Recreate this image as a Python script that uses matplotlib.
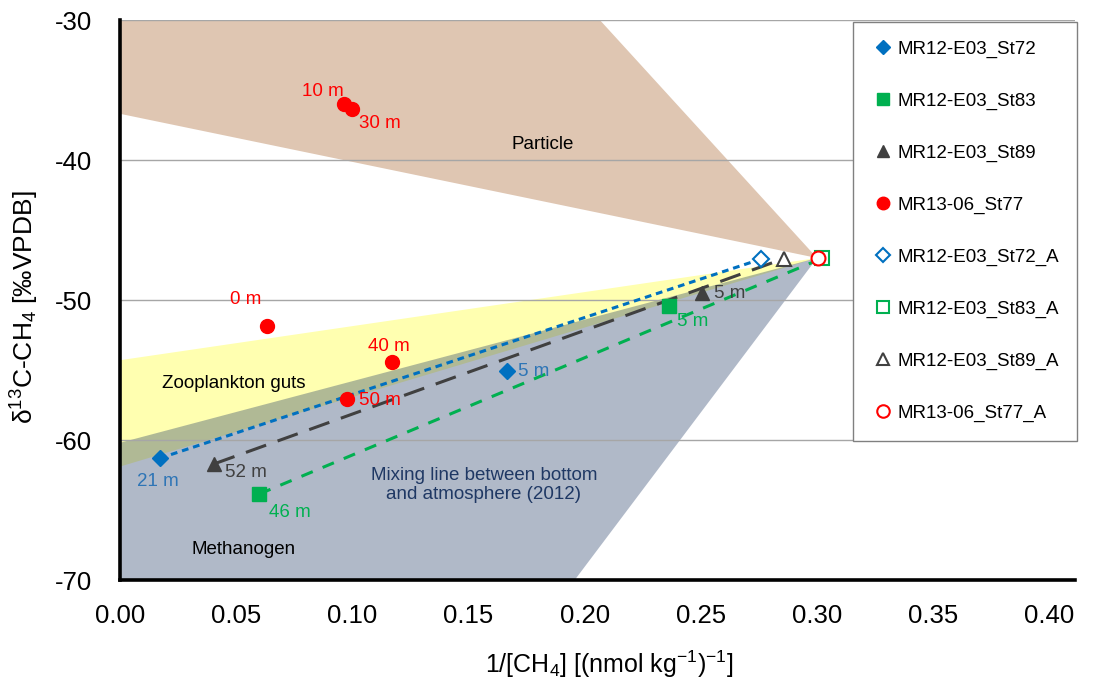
import matplotlib
matplotlib.use("Agg")
import matplotlib.pyplot as plt
from matplotlib.lines import Line2D
from matplotlib.patches import Polygon

plt.rcParams['font.family'] = ['Liberation Sans', 'DejaVu Sans']
plt.rcParams['mathtext.fontset'] = 'custom'
plt.rcParams['mathtext.rm'] = 'Liberation Sans'
plt.rcParams['mathtext.it'] = 'Liberation Sans:italic'
plt.rcParams['axes.unicode_minus'] = False

# ---------------- data ----------------
# bottom-water samples (x = 1/[CH4], y = d13C)
st72_x = [0.0172, 0.1666]
st72_y = [-61.3, -55.05]
st72_lbl = ["21 m", "5 m"]
st83_x = [0.0599, 0.2361]
st83_y = [-63.86, -50.41]
st83_lbl = ["46 m", "5 m"]
st89_x = [0.0406, 0.2505]
st89_y = [-61.7, -49.5]
st89_lbl = ["52 m", "5 m"]
st77_x = [0.0632, 0.0965, 0.0999, 0.1171, 0.0975]
st77_y = [-51.86, -36.0, -36.33, -54.41, -57.09]
st77_lbl = ["0 m", "10 m", "30 m", "40 m", "50 m"]
# atmospheric equilibrium end-members
atm_x = {"St72": 0.276, "St83": 0.3022, "St89": 0.2856, "St77": 0.3004}
atm_y = {"St72": -47.07, "St83": -47.02, "St89": -47.05, "St77": -47.02}
# source fields (polygons)
particle_x = [0.0, 0.2065, 0.300, 0.0]
particle_y = [-30.0, -30.0, -47.0, -36.7]
zoo_x = [0.0, 0.300, 0.0]
zoo_y = [-54.3, -47.0, -61.9]
meth_x = [0.0, 0.300, 0.1957, 0.0]
meth_y = [-60.2, -47.0, -70.0, -70.0]
xticks = [0.00, 0.05, 0.10, 0.15, 0.20, 0.25, 0.30, 0.35, 0.40]
yticks = [-70, -60, -50, -40, -30]

# label positions (centre of text)
st72_lpos = [(0.0163, -63.0), (0.178, -55.1)]
st83_lpos = [(0.0731, -65.2), (0.2465, -51.5)]
st89_lpos = [(0.0542, -62.3), (0.2624, -49.5)]
st77_lpos = [(0.0542, -50.0), (0.0873, -35.14), (0.1118, -37.36), (0.1157, -53.29), (0.1118, -57.2)]

C_BLUE = '#0070C0'
C_BLUE_T = '#2E75B6'
C_GREEN = '#00B050'
C_GRAY = '#404040'
C_RED = '#FF0000'

W, H = 1102, 689
fig = plt.figure(figsize=(W / 100, H / 100), dpi=100)
ax = fig.add_axes([120 / W, 1 - 580 / H, 955 / W, 560 / H])
ax.set_xlim(0, 0.411)
ax.set_ylim(-70, -30)

# polygons
ax.add_patch(Polygon(list(zip(particle_x, particle_y)), closed=True,
                     facecolor='#DFC6B2', edgecolor='none', zorder=1))
ax.add_patch(Polygon(list(zip(zoo_x, zoo_y)), closed=True,
                     facecolor='#FFFFB0', edgecolor='none', zorder=1))
ax.add_patch(Polygon(list(zip(meth_x, meth_y)), closed=True,
                     facecolor='#1F3864', alpha=0.35, edgecolor='none', zorder=1.1))

# grid
ax.set_axisbelow('line')
ax.yaxis.grid(True, color='#A6A6A6', linewidth=1.0)
ax.xaxis.grid(False)

# mixing lines
ax.plot([st72_x[0], atm_x["St72"]], [st72_y[0], atm_y["St72"]], color=C_BLUE,
        lw=2.2, dashes=(2.2, 1.6), zorder=3)
ax.plot([st89_x[0], atm_x["St89"]], [st89_y[0], atm_y["St89"]], color=C_GRAY,
        lw=2.2, dashes=(7, 4), zorder=3)
ax.plot([st83_x[0], atm_x["St83"]], [st83_y[0], atm_y["St83"]], color=C_GREEN,
        lw=2.2, dashes=(4, 3.5), zorder=3)

# filled markers
ax.plot(st72_x, st72_y, 'D', color=C_BLUE, ms=8, ls='none', zorder=4)
ax.plot(st83_x, st83_y, 's', color=C_GREEN, ms=10, ls='none', zorder=4)
ax.plot(st89_x, st89_y, '^', color=C_GRAY, ms=10, ls='none', zorder=4)
ax.plot(st77_x, st77_y, 'o', color=C_RED, ms=10, ls='none', zorder=4)
# open (atmospheric) markers
ax.plot([atm_x["St72"]], [atm_y["St72"]], 'D', mfc='white', mec=C_BLUE, mew=1.5, ms=8, zorder=4)
ax.plot([atm_x["St83"]], [atm_y["St83"]], 's', mfc='white', mec=C_GREEN, mew=1.5, ms=10, zorder=4)
ax.plot([atm_x["St89"]], [atm_y["St89"]], '^', mfc='white', mec=C_GRAY, mew=1.5, ms=10, zorder=4)
ax.plot([atm_x["St77"]], [atm_y["St77"]], 'o', mfc='white', mec=C_RED, mew=1.5, ms=10, zorder=4)

# depth labels
for lbls, pos, col in [(st72_lbl, st72_lpos, C_BLUE_T), (st83_lbl, st83_lpos, C_GREEN),
                       (st89_lbl, st89_lpos, C_GRAY), (st77_lbl, st77_lpos, C_RED)]:
    for t, (px, py) in zip(lbls, pos):
        ax.text(px, py, t, color=col, fontsize=13.5, ha='center', va='center', zorder=5)

# field labels
ax.text(0.182, -38.86, 'Particle', fontsize=13.5, ha='center', va='center', zorder=5)
ax.text(0.049, -55.93, 'Zooplankton guts', fontsize=13.5, ha='center', va='center', zorder=5)
ax.text(0.0533, -67.8, 'Methanogen', fontsize=13.5, ha='center', va='center', zorder=5)
ax.text(0.1566, -63.2, 'Mixing line between bottom\nand atmosphere (2012)', fontsize=13.5,
        color='#1F3864', ha='center', va='center', linespacing=1.2, zorder=5)

# axes styling
for s in ['top', 'right']:
    ax.spines[s].set_visible(False)
for s in ['left', 'bottom']:
    ax.spines[s].set_linewidth(2.6)
    ax.spines[s].set_color('black')
    ax.spines[s].set_zorder(6)
ax.set_xticks(xticks)
ax.set_xticklabels([f'{v:.2f}' for v in xticks])
ax.set_yticks(yticks)
ax.set_yticklabels([f'{v:d}' for v in yticks])
ax.tick_params(axis='both', length=0, labelsize=18.5)
ax.tick_params(axis='y', pad=20)
ax.tick_params(axis='x', pad=17)

ax.set_xlabel('1/[CH$_4$] [(nmol kg$^{-1}$)$^{-1}$]', fontsize=18)
ax.xaxis.set_label_coords(0.512, -0.122)
ax.set_ylabel('δ$^{13}$C-CH$_4$ [‰VPDB]', fontsize=19)
ax.yaxis.set_label_coords(-0.083, 0.4875)

# legend
handles = [
    Line2D([], [], marker='D', color=C_BLUE, ls='none', ms=7),
    Line2D([], [], marker='s', color=C_GREEN, ls='none', ms=9),
    Line2D([], [], marker='^', color=C_GRAY, ls='none', ms=9),
    Line2D([], [], marker='o', color=C_RED, ls='none', ms=9),
    Line2D([], [], marker='D', mfc='white', mec=C_BLUE, mew=1.5, ls='none', ms=7),
    Line2D([], [], marker='s', mfc='white', mec=C_GREEN, mew=1.5, ls='none', ms=9),
    Line2D([], [], marker='^', mfc='white', mec=C_GRAY, mew=1.5, ls='none', ms=9),
    Line2D([], [], marker='o', mfc='white', mec=C_RED, mew=1.5, ls='none', ms=9),
]
labels = ['MR12-E03_St72', 'MR12-E03_St83', 'MR12-E03_St89', 'MR13-06_St77',
          'MR12-E03_St72_A', 'MR12-E03_St83_A', 'MR12-E03_St89_A', 'MR13-06_St77_A']
leg = ax.legend(handles, labels, loc='upper left', bbox_to_anchor=(853 / W, 1 - 22 / H),
                bbox_transform=fig.transFigure, borderaxespad=0, frameon=True, fancybox=False,
                fontsize=13.5, labelspacing=1.85, handlelength=1.2, handletextpad=0.15,
                borderpad=1.0)
leg.get_frame().set_edgecolor('#808080')
leg.get_frame().set_linewidth(1.0)
leg.get_frame().set_alpha(1)
leg.set_zorder(10)

fig.savefig('out.png', dpi=100)
